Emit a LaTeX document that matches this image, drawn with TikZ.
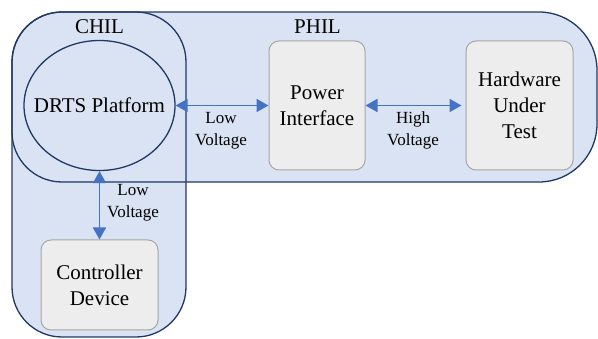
\documentclass[tikz,border=0pt]{standalone}
\usepackage{fontspec}
\setmainfont{Liberation Serif}
\newfontfamily\diagfont{Liberation Serif}
\usetikzlibrary{shapes.geometric,arrows.meta}
\definecolor{regionfill}{RGB}{218,227,243}
\definecolor{regionline}{RGB}{32,56,100}
\definecolor{boxfill}{RGB}{237,237,237}
\definecolor{boxline}{RGB}{166,166,166}
\definecolor{arrowblue}{RGB}{68,114,196}
\tikzset{
  region/.style={line width=1.3pt, draw=regionline},
  mainfont/.style={font=\diagfont\fontsize{21}{26}\selectfont},
  labelfont/.style={font=\diagfont\fontsize{17}{22}\selectfont},
  device/.style={draw=boxline, fill=boxfill, line width=1pt, rounded corners=10pt,
    minimum width=96pt, minimum height=129pt, inner sep=0pt, align=center, mainfont},
  link/.style={draw=arrowblue, line width=1.8pt,
    {Triangle[length=12pt,width=13pt]}-{Triangle[length=12pt,width=13pt]}},
  voltlabel/.style={align=center, labelfont, inner sep=0pt},
  grouplabel/.style={mainfont, inner sep=0pt}
}
\begin{document}
\begin{tikzpicture}[x=1pt,y=-1pt]
\useasboundingbox (0,0) rectangle (598,339);
% region fills
\fill[regionfill] (62,12) -- (539,12) arc(-90:0:58) -- (597,124) arc(0:90:58)
  -- (62,182) arc(90:180:50) -- (12,62) arc(180:270:50) -- cycle;
\fill[regionfill, rounded corners=50pt] (12,12) rectangle (186,337);
% region outlines
\draw[region] (62,12) -- (539,12) arc(-90:0:58) -- (597,124) arc(0:90:58)
  -- (62,182) arc(90:180:50) -- (12,62) arc(180:270:50) -- cycle;
\draw[region, rounded corners=50pt] (12,12) rectangle (186,337);
% group labels
\node[grouplabel] (chil) at (99.5,27) {CHIL};
\node[grouplabel] (phil) at (317.5,27) {PHIL};
% nodes
\node[ellipse, draw=regionline, line width=1.3pt, minimum width=151pt, minimum height=130pt,
  inner sep=0pt] (drts) at (99.5,105.5) {};
\node[mainfont, inner sep=0pt] (drtstext) at (drts.center) {DRTS Platform};
\node[device] (pi) at (317,105.5) {Power\\Interface};
\node[device, minimum width=107pt] (hut) at (519.5,105.5) {Hardware\\Under\\Test};
\node[device, minimum width=117pt, minimum height=90pt] (cd) at (99.5,285) {Controller\\Device};
% connectors
\draw[link] (drts.east) -- (pi.west);
\draw[link, shorten >=4pt] (pi.east) -- (hut.west);
\draw[link] (drts.south) -- (cd.north);
% connector labels
\node[voltlabel] (lv1) at (221,131) {Low\\Voltage};
\node[voltlabel] (hv) at (413,130) {High\\Voltage};
\node[voltlabel] (lv2) at (133,203) {Low\\Voltage};
\end{tikzpicture}
\end{document}
